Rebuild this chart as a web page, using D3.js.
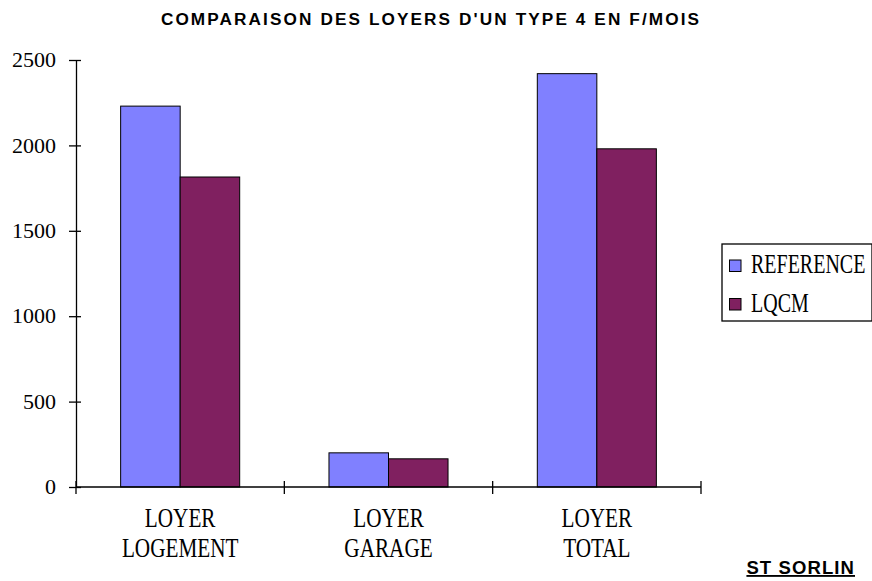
<!DOCTYPE html>
<html><head><meta charset="utf-8">
<script src="https://cdn.jsdelivr.net/npm/d3@7"></script>
<style>body{margin:0;background:#fff}svg{display:block}</style>
</head><body>
<svg id="c" width="872" height="581"></svg>
<script>
const categories = [["LOYER","LOGEMENT"],["LOYER","GARAGE"],["LOYER","TOTAL"]];
const seriesNames = ["REFERENCE","LQCM"];
const reference = [2230, 200, 2420];
const lqcm = [1815, 165, 1980];
const yTicks = [0,500,1000,1500,2000,2500];
const colors = ["#8080FF","#802060"];

const serif = "'Liberation Serif', 'Times New Roman', serif";
const sans = "'Liberation Sans', Arial, sans-serif";
const svg = d3.select("#c");
const x0 = d3.scaleBand().domain(d3.range(categories.length)).range([76,701]).paddingInner(0).paddingOuter(0);
const y = d3.scaleLinear().domain([0,2500]).range([487,60]);
const bw = x0.bandwidth()/3.5;
const x1 = d3.scaleBand().domain([0,1]).range([0,2*bw]);

svg.append("text").attr("x",431).attr("y",24.5).attr("text-anchor","middle")
  .style("font-family",sans).attr("font-weight","bold").attr("font-size",17.2)
  .attr("letter-spacing","2.1px")
  .text("COMPARAISON DES LOYERS D'UN TYPE 4 EN F/MOIS");

const data = [reference, lqcm];
data.forEach((s,si)=>{
  svg.append("g").selectAll("rect").data(s).join("rect")
    .attr("x",(d,i)=>x0(i)+x0.bandwidth()/2-bw+x1(si))
    .attr("y",d=>y(d)).attr("width",bw).attr("height",d=>y(0)-y(d))
    .attr("fill",colors[si]).attr("stroke","#000").attr("stroke-width",1);
});

// y axis
const ya = svg.append("g").attr("transform","translate(76,0)")
  .call(d3.axisLeft(y).tickValues(yTicks).tickFormat(d3.format("d")).tickSize(0).tickPadding(20));
ya.attr("font-family",null).attr("font-size",null);
ya.select(".domain").attr("stroke","#000").attr("stroke-width",1.3);
ya.selectAll(".tick line").attr("x1",-7).attr("x2",5).attr("stroke","#000").attr("stroke-width",1.3);
ya.selectAll("text").style("font-family",serif).style("font-size","22px").attr("fill","#000").attr("dy","0.3em");

// x axis
const xa = svg.append("g").attr("transform","translate(0,487)");
xa.append("line").attr("x1",76).attr("x2",701).attr("stroke","#000").attr("stroke-width",1.3);
const edges = d3.range(categories.length+1).map(i=>i<categories.length?x0(i):x0(i-1)+x0.bandwidth());
xa.selectAll("line.t").data(edges).join("line").attr("class","t")
  .attr("x1",d=>d).attr("x2",d=>d).attr("y1",-6).attr("y2",7).attr("stroke","#000").attr("stroke-width",1.3);
categories.forEach((c,i)=>{
  c.forEach((line,li)=>{
    xa.append("text")
      .attr("transform",`translate(${x0(i)+x0.bandwidth()/2},${40+li*30}) scale(0.8,1)`)
      .attr("text-anchor","middle").style("font-family",serif)
      .style("font-size","26.5px").text(line);
  });
});

// legend
const lg = svg.append("g");
lg.append("rect").attr("x",722).attr("y",244).attr("width",150).attr("height",77)
  .attr("fill","#fff").attr("stroke","#000").attr("stroke-width",1.3);
seriesNames.forEach((n,i)=>{
  lg.append("rect").attr("x",729.5).attr("y",260+i*38.5).attr("width",11.5).attr("height",11.5)
    .attr("fill",colors[i]).attr("stroke","#000").attr("stroke-width",1);
  lg.append("text").attr("transform",`translate(751,${273+i*38.5}) scale(0.74,1)`)
    .style("font-family",serif).style("font-size","27px").text(n);
});

svg.append("text").attr("x",855).attr("y",574).attr("text-anchor","end")
  .style("font-family",sans).attr("font-weight","bold").attr("font-size",18.5)
  .attr("letter-spacing","1.1px")
  .attr("text-decoration","underline").text("ST SORLIN");
</script>
</body></html>
